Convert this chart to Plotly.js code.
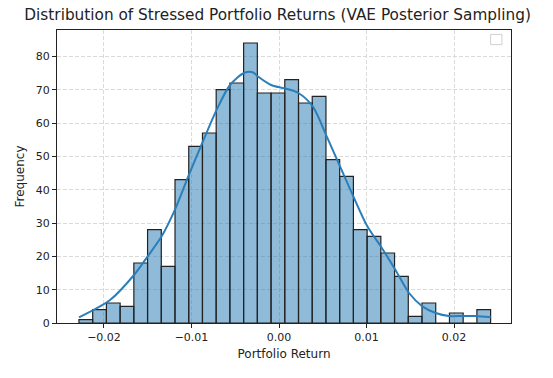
<!DOCTYPE html>
<html>
<head>
<meta charset="utf-8">
<script src="https://cdn.plot.ly/plotly-3.0.1.min.js"></script>
<style>
  body { margin: 0; background: #fff; }
  #chart { width: 553px; height: 378px; }
</style>
</head>
<body>
<div id="chart"></div>
<script>
// histogram: 30 bins, first edge and width
var binStart = -0.02286;
var binWidth = 0.001568;
var counts = [1, 4, 6, 5, 18, 28, 17, 43, 53, 57, 70, 72, 84, 69, 69,
              73, 66, 68, 49, 44, 28, 26, 21, 14, 2, 6, 0, 3, 0, 4];

// kde curve, scaled to counts
var kdeX = [-0.02286, -0.01931, -0.01657, -0.01501, -0.01341, -0.01189, -0.01037,
            -0.00877, -0.00712, -0.0056, -0.004, -0.003, -0.00243, -0.00091, 0.00061,
            0.00221, 0.00385, 0.00545, 0.00697, 0.00849, 0.01009, 0.01162, 0.01329,
            0.01486, 0.01638, 0.01791, 0.01943, 0.02099, 0.0225, 0.02419];
var kdeY = [1.7, 6.9, 14.4, 20, 26, 34, 44,
            54, 64, 71.4, 75, 75.2, 74, 71.4, 70.4,
            69, 65, 56, 47, 38, 29, 23, 16,
            9, 5, 3, 2.1, 2.1, 2.1, 1.7];

var xTicks = [-0.02, -0.01, 0, 0.01, 0.02];
var xTickText = ["\u22120.02", "\u22120.01", "0.00", "0.01", "0.02"];
var yTicks = [0, 10, 20, 30, 40, 50, 60, 70, 80];

var centers = counts.map(function (c, i) { return binStart + (i + 0.5) * binWidth; });

var bars = {
  type: "bar",
  x: centers,
  y: counts,
  width: binWidth,
  marker: { color: "rgba(31,119,180,0.5)", line: { color: "#222", width: 1.2 } },
  hoverinfo: "x+y",
  showlegend: false
};

var kde = {
  type: "scatter",
  mode: "lines",
  x: kdeX,
  y: kdeY,
  line: { color: "#2a7fba", width: 2, shape: "spline", smoothing: 0.8 },
  showlegend: false
};

var axisCommon = {
  showline: true,
  linecolor: "#222",
  linewidth: 1,
  mirror: true,
  ticks: "outside",
  ticklen: 4,
  tickcolor: "#222",
  showgrid: true,
  gridcolor: "#dadada",
  griddash: "4px,2px",
  gridwidth: 1,
  zeroline: false,
  tickfont: { family: "DejaVu Sans", size: 11, color: "#222" }
};

var layout = {
  width: 553,
  height: 378,
  margin: { l: 57, r: 42, t: 30, b: 55 },
  paper_bgcolor: "#fff",
  plot_bgcolor: "#fff",
  font: { family: "DejaVu Sans", color: "#222" },
  title: {
    text: "Distribution of Stressed Portfolio Returns (VAE Posterior Sampling)",
    font: { family: "DejaVu Sans", size: 15.3, color: "#222" },
    xref: "paper", x: 0.486, xanchor: "center", y: 0.962, yanchor: "middle"
  },
  bargap: 0,
  xaxis: Object.assign({}, axisCommon, {
    range: [-0.02537, 0.02651],
    tickvals: xTicks,
    ticktext: xTickText,
    title: { text: "Portfolio Return", font: { family: "DejaVu Sans", size: 12, color: "#222" }, standoff: 6 }
  }),
  yaxis: Object.assign({}, axisCommon, {
    range: [0, 87.9],
    tickvals: yTicks,
    title: { text: "Frequency", font: { family: "DejaVu Sans", size: 12, color: "#222" }, standoff: 8 }
  }),
  shapes: [
    // empty legend box in the upper right
    { type: "rect", xref: "paper", yref: "paper", x0: 0.955, x1: 0.98, y0: 0.95, y1: 0.985,
      line: { color: "#d0d0d0", width: 1 }, fillcolor: "rgba(255,255,255,0.8)" }
  ]
};

Plotly.newPlot("chart", [bars, kde], layout, { displayModeBar: false, staticPlot: true });
</script>
</body>
</html>
